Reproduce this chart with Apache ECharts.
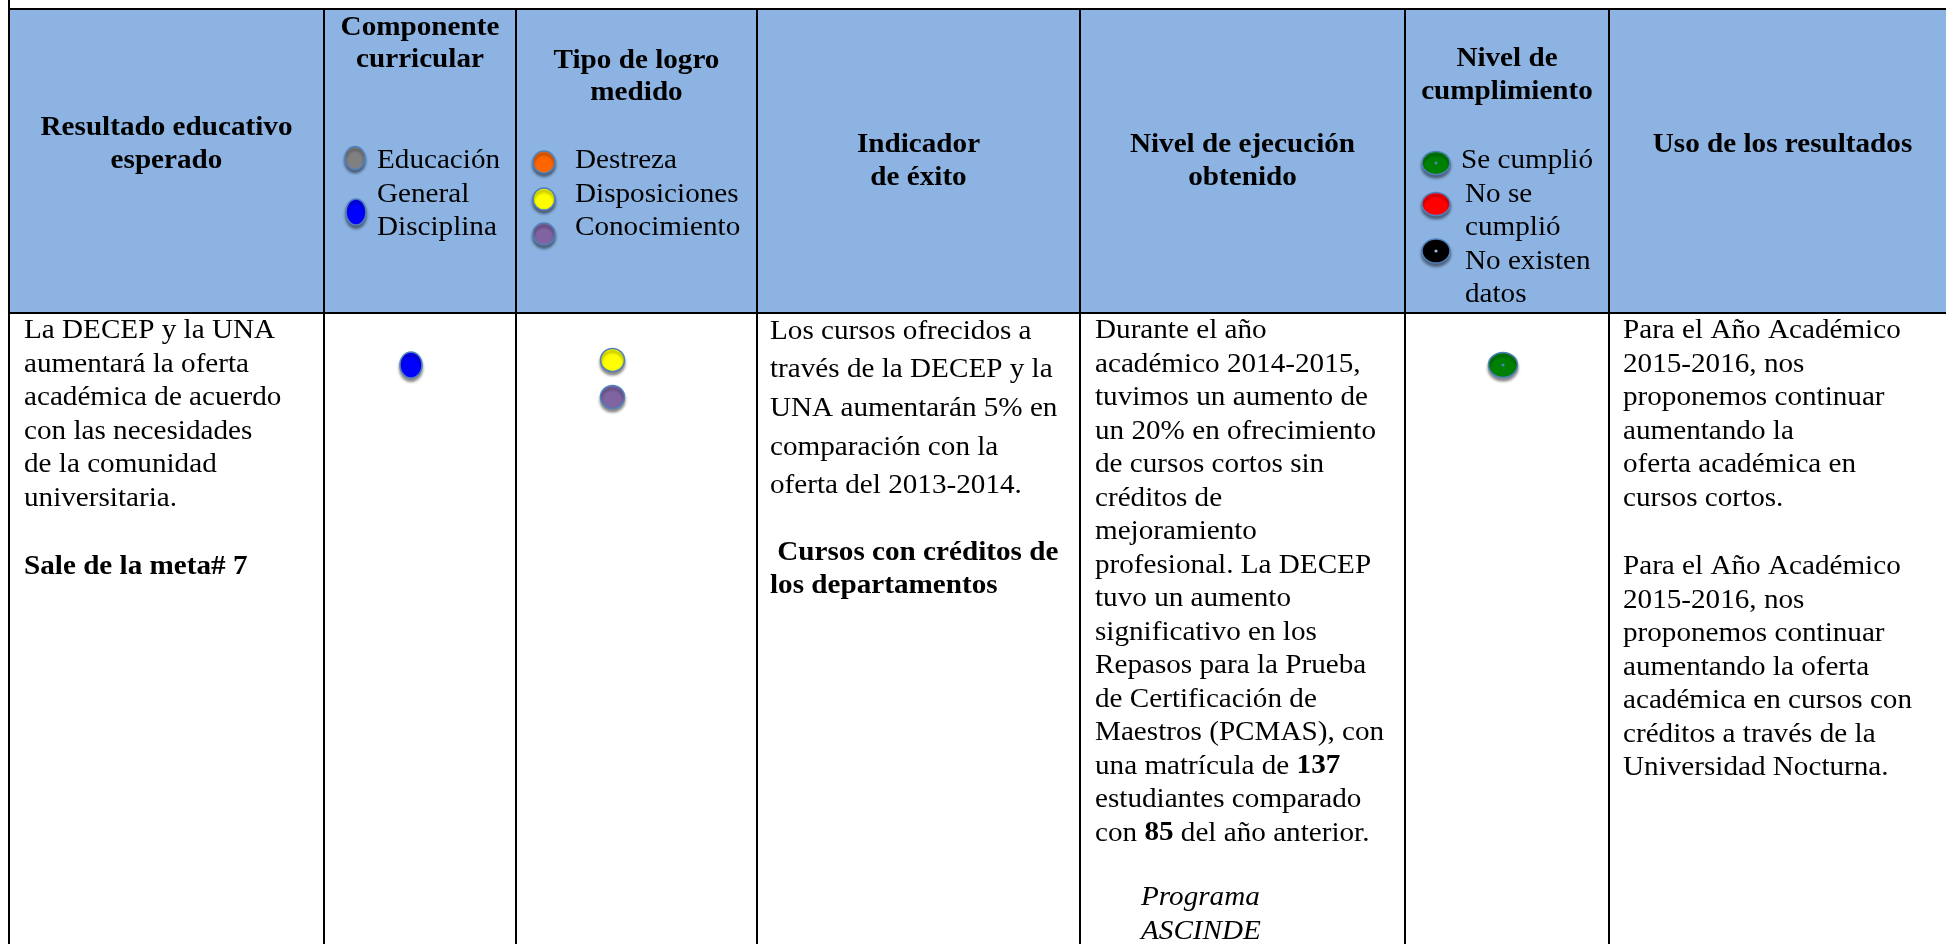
<!DOCTYPE html>
<html>
<head>
<meta charset="utf-8">
<script src="https://cdn.jsdelivr.net/npm/echarts@6/dist/echarts.min.js"></script>
<style>
html,body{margin:0;padding:0;background:#ffffff;}
#chart{width:1946px;height:944px;}
</style>
</head>
<body>
<div id="chart"></div>
<script>
// ================= CONTENT (data) =================
const headerTitles = [
  ['Resultado educativo', 'esperado'],
  ['Componente', 'curricular'],
  ['Tipo de logro', 'medido'],
  ['Indicador', 'de éxito'],
  ['Nivel de ejecución', 'obtenido'],
  ['Nivel de', 'cumplimiento'],
  ['Uso de los resultados']
];
const componenteLabels = ['Educación', 'General', 'Disciplina'];
const logroLabels = ['Destreza', 'Disposiciones', 'Conocimiento'];
const cumplimientoLabels = ['Se cumplió', 'No se', 'cumplió', 'No existen', 'datos'];

const componenteCategories = ['Educación General', 'Disciplina'];
const logroCategories = ['Destreza', 'Disposiciones', 'Conocimiento'];
const cumplimientoCategories = ['Se cumplió', 'No se cumplió', 'No existen datos'];

const resultadoLines = ['La DECEP y la UNA', 'aumentará la oferta', 'académica de acuerdo',
  'con las necesidades', 'de la comunidad', 'universitaria.'];
const resultadoMeta = ['Sale de la meta# 7'];
const indicadorLines = ['Los cursos ofrecidos a', 'través de la DECEP y la',
  'UNA aumentarán 5% en', 'comparación con la', 'oferta del 2013-2014.'];
const indicadorBold = [' Cursos con créditos de', 'los departamentos'];
const ejecucionLines = ['Durante el año', 'académico 2014-2015,', 'tuvimos un aumento de',
  'un 20% en ofrecimiento', 'de cursos cortos sin', 'créditos de', 'mejoramiento',
  'profesional. La DECEP', 'tuvo un aumento', 'significativo en los',
  'Repasos para la Prueba', 'de Certificación de', 'Maestros (PCMAS), con',
  'una matrícula de {b|137}', 'estudiantes comparado', 'con {b|85} del año anterior.'];
const ejecucionPrograma = ['Programa', 'ASCINDE'];
const usoLines1 = ['Para el Año Académico', '2015-2016, nos', 'proponemos continuar',
  'aumentando la', 'oferta académica en', 'cursos cortos.'];
const usoLines2 = ['Para el Año Académico', '2015-2016, nos', 'proponemos continuar',
  'aumentando la oferta', 'académica en cursos con', 'créditos a través de la',
  'Universidad Nocturna.'];

const componenteMarcado = ['Disciplina'];
const logroMarcado = ['Disposiciones', 'Conocimiento'];
const cumplimientoMarcado = ['Se cumplió'];

// ================= STYLES / LAYOUT =================
const FF = '"Liberation Serif", "Times New Roman", serif';
const markerColors = {
  'Educación General': '#808080', 'Disciplina': '#0000FF',
  'Destreza': '#FF6600', 'Disposiciones': '#FFFF00', 'Conocimiento': '#8064A2',
  'Se cumplió': '#008000', 'No se cumplió': '#FF0000', 'No existen datos': '#000000'
};
const L = {
  W: 1946, H: 944,
  cols: [9, 324, 516, 757, 1080, 1405, 1609, 1956],
  rows: [9, 313, 960],
  headerFill: '#8DB3E2',
  fs: 27, sx: 1.08, mid: 9,
  hdrBase: [[137, 170], [37, 69.5], [70, 102], [154, 187], [154, 187], [68.5, 101], [154]],
  legendStep: 33.5,
  compLegend: { x: 377, y0: 170, markers: [[355, 158, 10, 11.5], [356, 212, 10, 13]] },
  logroLegend: { x: 575, y0: 170, markers: [[544, 162, 11, 11], [544, 199, 11, 11], [544, 234, 11, 11]] },
  cumpLegend: { xs: [1461, 1465, 1465, 1465, 1465], y0: 170, markers: [[1436, 163, 14, 11.5], [1436, 204, 14, 11.5], [1436, 251, 14, 12]] },
  bodyStep: 33.5,
  col1: { x: 24, y0: 340, metaY: 576 },
  col4: { x: 770, y0: 340.7, step: 38.6, boldY: 561.7 },
  col5: { x: 1095, y0: 340, progX: 1141, progY: 907 },
  col7: { x: 1623, y0: 340, y1: 576 },
  bodyMarkers: {
    comp: { x: 411, ys: [365], rx: 11, ry: 13 },
    logro: { x: 612.5, ys: [360, 397], rx: 12, ry: 11.5 },
    cump: { x: 1503, ys: [365], rx: 14.5, ry: 12.5 }
  }
};

// ================= BUILD ITEMS =================
const textItems = [];
function addText(x, base, t, kind, align) {
  textItems.push({ x: x, y: base, t: t, k: kind || 'r', a: align || 'left' });
}
// header titles
headerTitles.forEach((lines, c) => {
  const cx = (L.cols[c] + L.cols[c + 1]) / 2;
  lines.forEach((t, i) => addText(cx, L.hdrBase[c][i], t, 'b', 'center'));
});
// header legends
componenteLabels.forEach((t, i) => addText(L.compLegend.x, L.compLegend.y0 + i * L.legendStep, t));
logroLabels.forEach((t, i) => addText(L.logroLegend.x, L.logroLegend.y0 + i * L.legendStep, t));
cumplimientoLabels.forEach((t, i) => addText(L.cumpLegend.xs[i], L.cumpLegend.y0 + i * L.legendStep, t));
// body
resultadoLines.forEach((t, i) => addText(L.col1.x, L.col1.y0 + i * L.bodyStep, t));
resultadoMeta.forEach((t, i) => addText(L.col1.x, L.col1.metaY + i * L.bodyStep, t, 'b'));
indicadorLines.forEach((t, i) => addText(L.col4.x, L.col4.y0 + i * L.col4.step, t));
indicadorBold.forEach((t, i) => addText(L.col4.x, L.col4.boldY + i * L.bodyStep, t, 'b'));
ejecucionLines.forEach((t, i) => addText(L.col5.x, L.col5.y0 + i * L.bodyStep, t));
ejecucionPrograma.forEach((t, i) => addText(L.col5.progX, L.col5.progY + i * L.bodyStep, t, 'i'));
usoLines1.forEach((t, i) => addText(L.col7.x, L.col7.y0 + i * L.bodyStep, t));
usoLines2.forEach((t, i) => addText(L.col7.x, L.col7.y1 + i * L.bodyStep, t));

const markerItems = [];
function addMarker(x, y, rx, ry, cat) {
  markerItems.push({ x: x, y: y, rx: rx, ry: ry, color: markerColors[cat],
    dot: cat === 'Se cumplió' || cat === 'No existen datos' });
}
componenteCategories.forEach((c, i) => { const m = L.compLegend.markers[i]; addMarker(m[0], m[1], m[2], m[3], c); });
logroCategories.forEach((c, i) => { const m = L.logroLegend.markers[i]; addMarker(m[0], m[1], m[2], m[3], c); });
cumplimientoCategories.forEach((c, i) => { const m = L.cumpLegend.markers[i]; addMarker(m[0], m[1], m[2], m[3], c); });
componenteMarcado.forEach((c, i) => { const b = L.bodyMarkers.comp; addMarker(b.x, b.ys[i], b.rx, b.ry, c); });
logroMarcado.forEach((c, i) => { const b = L.bodyMarkers.logro; addMarker(b.x, b.ys[i], b.rx, b.ry, c); });
cumplimientoMarcado.forEach((c, i) => { const b = L.bodyMarkers.cump; addMarker(b.x, b.ys[i], b.rx, b.ry, c); });

const cellItems = [];
for (let r = 0; r < 2; r++) for (let c = 0; c < 7; c++) cellItems.push([c, r]);

const lineItems = [];
L.cols.forEach((x, i) => lineItems.push([x, i === 0 ? 0 : L.rows[0], x, L.H]));
lineItems.push([L.cols[0], L.rows[0], L.cols[7], L.rows[0]]);
lineItems.push([L.cols[0], L.rows[1], L.cols[7], L.rows[1]]);

// ================= CHART =================
const chart = echarts.init(document.getElementById('chart'), null, { renderer: 'canvas' });
chart.setOption({
  animation: false,
  backgroundColor: '#ffffff',
  grid: { left: 0, right: 0, top: 0, bottom: 0 },
  xAxis: { type: 'value', min: 0, max: L.W, show: false },
  yAxis: { type: 'value', min: 0, max: L.H, inverse: true, show: false },
  tooltip: { show: false },
  series: [
    {
      type: 'custom', name: 'cells', z: 1, clip: false, silent: true,
      data: cellItems,
      renderItem: function (params, api) {
        const c = api.value(0), r = api.value(1);
        const p0 = api.coord([L.cols[c], L.rows[r]]);
        const p1 = api.coord([L.cols[c + 1], L.rows[r + 1]]);
        return { type: 'rect', shape: { x: p0[0], y: p0[1], width: p1[0] - p0[0], height: p1[1] - p0[1] },
          style: { fill: r === 0 ? L.headerFill : '#ffffff' } };
      }
    },
    {
      type: 'custom', name: 'borders', z: 2, clip: false, silent: true,
      data: lineItems,
      renderItem: function (params, api) {
        const a = api.coord([api.value(0), api.value(1)]);
        const b = api.coord([api.value(2), api.value(3)]);
        return { type: 'line', shape: { x1: a[0], y1: a[1], x2: b[0], y2: b[1] },
          style: { stroke: '#000000', lineWidth: 2 } };
      }
    },
    {
      type: 'custom', name: 'markers', z: 3, clip: false, silent: true,
      data: markerItems.map(m => [m.x, m.y]),
      renderItem: function (params, api) {
        const m = markerItems[params.dataIndex];
        const p = api.coord([api.value(0), api.value(1)]);
        const s = api.size([m.rx, m.ry]);
        const children = [{
          type: 'ellipse', shape: { cx: p[0], cy: p[1], rx: s[0], ry: s[1] },
          style: { fill: m.color, stroke: '#4F81BD', lineWidth: 1.5,
            shadowBlur: 3, shadowOffsetY: 3, shadowColor: 'rgba(0,0,0,0.45)' }
        }];
        if (m.dot) children.push({ type: 'circle', shape: { cx: p[0], cy: p[1], r: 1.6 },
          style: { fill: m.color === '#000000' ? '#9DB9E0' : '#4F81BD' } });
        return { type: 'group', children: children };
      }
    },
    {
      type: 'custom', name: 'texts', z: 4, clip: false, silent: true,
      data: textItems.map(d => [d.x, d.y]),
      renderItem: function (params, api) {
        const d = textItems[params.dataIndex];
        const p = api.coord([api.value(0), api.value(1) - L.mid]);
        return {
          type: 'text', x: p[0], y: p[1], scaleX: L.sx,
          style: {
            text: d.t, fill: '#000000', fontFamily: FF, fontSize: L.fs,
            fontWeight: d.k === 'b' ? 'bold' : 'normal',
            fontStyle: d.k === 'i' ? 'italic' : 'normal',
            align: d.a, verticalAlign: 'middle',
            rich: { b: { fontFamily: FF, fontSize: L.fs, fontWeight: 'bold', fill: '#000000' } }
          }
        };
      }
    }
  ]
});
</script>
</body>
</html>
